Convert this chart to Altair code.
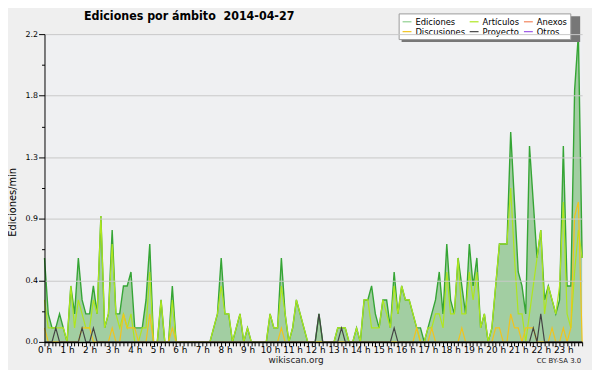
import altair as alt
import pandas as pd

FONT = "DejaVu Sans"
FONT_COND = "DejaVu Sans Condensed, DejaVu Sans"

# 10-minute bins across the day (minutes since 00:00)
minutos = list(range(0, 1440, 10))

ediciones = [
    0.6, 0.2, 0.1, 0.1, 0.2, 0.1, 0.0, 0.4, 0.2, 0.6, 0.3, 0.2,
    0.2, 0.4, 0.2, 0.9, 0.1, 0.2, 0.8, 0.2, 0.2, 0.4, 0.4, 0.5,
    0.1, 0.1, 0.1, 0.3, 0.7, 0.0, 0.0, 0.3, 0.0, 0.0, 0.4, 0.0,
    0.0, 0.0, 0.0, 0.0, 0.0, 0.0, 0.0, 0.0, 0.0, 0.1, 0.2, 0.6,
    0.2, 0.2, 0.0, 0.1, 0.2, 0.0, 0.1, 0.0, 0.0, 0.0, 0.0, 0.0,
    0.2, 0.1, 0.1, 0.6, 0.2, 0.0, 0.1, 0.3, 0.2, 0.1, 0.0, 0.0,
    0.0, 0.2, 0.0, 0.0, 0.0, 0.0, 0.1, 0.1, 0.1, 0.0, 0.0, 0.1,
    0.0, 0.3, 0.3, 0.4, 0.2, 0.1, 0.3, 0.3, 0.1, 0.5, 0.2, 0.4,
    0.3, 0.3, 0.2, 0.1, 0.1, 0.0, 0.1, 0.2, 0.3, 0.5, 0.2, 0.7,
    0.3, 0.2, 0.6, 0.4, 0.2, 0.7, 0.4, 0.6, 0.1, 0.2, 0.0, 0.1,
    0.4, 0.7, 0.7, 0.7, 1.5, 1.0, 0.5, 0.4, 0.2, 1.4, 1.0, 0.6,
    0.8, 0.3, 0.4, 0.3, 0.2, 0.3, 1.4, 0.4, 0.4, 1.8, 2.2, 0.6,
]

articulos = [
    0.3, 0.1, 0.1, 0.1, 0.1, 0.1, 0.0, 0.4, 0.1, 0.3, 0.2, 0.1,
    0.1, 0.3, 0.2, 0.9, 0.1, 0.2, 0.7, 0.2, 0.1, 0.2, 0.1, 0.2,
    0.0, 0.0, 0.1, 0.1, 0.5, 0.0, 0.0, 0.3, 0.0, 0.0, 0.3, 0.0,
    0.0, 0.0, 0.0, 0.0, 0.0, 0.0, 0.0, 0.0, 0.0, 0.1, 0.2, 0.4,
    0.2, 0.2, 0.0, 0.1, 0.2, 0.0, 0.1, 0.0, 0.0, 0.0, 0.0, 0.0,
    0.2, 0.1, 0.1, 0.4, 0.2, 0.0, 0.1, 0.3, 0.2, 0.1, 0.0, 0.0,
    0.0, 0.0, 0.0, 0.0, 0.0, 0.0, 0.1, 0.1, 0.1, 0.0, 0.0, 0.1,
    0.0, 0.3, 0.3, 0.1, 0.1, 0.1, 0.3, 0.2, 0.1, 0.4, 0.2, 0.4,
    0.3, 0.3, 0.2, 0.1, 0.0, 0.0, 0.1, 0.1, 0.2, 0.2, 0.1, 0.5,
    0.2, 0.2, 0.6, 0.2, 0.2, 0.5, 0.3, 0.5, 0.1, 0.2, 0.0, 0.1,
    0.4, 0.7, 0.7, 0.7, 1.1, 0.6, 0.2, 0.2, 0.0, 0.2, 0.4, 0.6,
    0.8, 0.2, 0.4, 0.3, 0.2, 0.4, 1.0, 0.2, 0.1, 0.5, 0.8, 0.6,
]

discusiones = [
    0.1, 0.0, 0.0, 0.0, 0.0, 0.0, 0.0, 0.0, 0.0, 0.0, 0.1, 0.1,
    0.1, 0.0, 0.0, 0.0, 0.0, 0.0, 0.1, 0.0, 0.0, 0.2, 0.1, 0.1,
    0.1, 0.0, 0.0, 0.0, 0.2, 0.0, 0.0, 0.0, 0.0, 0.0, 0.1, 0.0,
    0.0, 0.0, 0.0, 0.0, 0.0, 0.0, 0.0, 0.0, 0.0, 0.0, 0.0, 0.0,
    0.0, 0.0, 0.0, 0.0, 0.0, 0.0, 0.0, 0.0, 0.0, 0.0, 0.0, 0.0,
    0.0, 0.0, 0.0, 0.1, 0.0, 0.0, 0.0, 0.0, 0.0, 0.0, 0.0, 0.0,
    0.0, 0.0, 0.0, 0.0, 0.0, 0.0, 0.0, 0.0, 0.0, 0.0, 0.0, 0.0,
    0.0, 0.0, 0.0, 0.0, 0.0, 0.0, 0.0, 0.0, 0.0, 0.0, 0.0, 0.0,
    0.0, 0.0, 0.0, 0.1, 0.0, 0.0, 0.0, 0.1, 0.0, 0.0, 0.0, 0.0,
    0.0, 0.0, 0.0, 0.1, 0.0, 0.0, 0.0, 0.0, 0.0, 0.0, 0.0, 0.0,
    0.1, 0.1, 0.0, 0.0, 0.2, 0.1, 0.1, 0.0, 0.1, 0.1, 0.1, 0.0,
    0.0, 0.0, 0.0, 0.1, 0.0, 0.0, 0.1, 0.0, 0.1, 0.9, 1.0, 0.0,
]

proyecto = [
    0.0, 0.0, 0.0, 0.1, 0.0, 0.0, 0.0, 0.0, 0.0, 0.0, 0.1, 0.0,
    0.0, 0.1, 0.0, 0.0, 0.0, 0.0, 0.0, 0.0, 0.0, 0.0, 0.0, 0.0,
    0.0, 0.0, 0.0, 0.0, 0.0, 0.0, 0.0, 0.0, 0.0, 0.0, 0.0, 0.0,
    0.0, 0.0, 0.0, 0.0, 0.0, 0.0, 0.0, 0.0, 0.0, 0.0, 0.0, 0.0,
    0.0, 0.0, 0.0, 0.0, 0.0, 0.0, 0.0, 0.0, 0.0, 0.0, 0.0, 0.0,
    0.0, 0.0, 0.0, 0.0, 0.0, 0.0, 0.0, 0.0, 0.0, 0.0, 0.0, 0.0,
    0.0, 0.2, 0.0, 0.0, 0.0, 0.0, 0.0, 0.1, 0.0, 0.0, 0.0, 0.0,
    0.0, 0.0, 0.0, 0.0, 0.0, 0.0, 0.0, 0.0, 0.0, 0.1, 0.0, 0.0,
    0.0, 0.0, 0.0, 0.0, 0.0, 0.0, 0.0, 0.0, 0.0, 0.0, 0.0, 0.0,
    0.0, 0.0, 0.0, 0.0, 0.0, 0.0, 0.0, 0.0, 0.0, 0.0, 0.0, 0.0,
    0.0, 0.0, 0.0, 0.0, 0.0, 0.0, 0.0, 0.0, 0.0, 0.0, 0.1, 0.0,
    0.2, 0.0, 0.0, 0.0, 0.0, 0.0, 0.0, 0.0, 0.0, 0.0, 0.0, 0.0,
]

serie_nombres = ["Ediciones", "Artículos", "Anexos", "Discusiones", "Proyecto", "Otros"]
serie_colores = ["#8fcf8f", "#aee61e", "#f2845c", "#f2c31c", "#444444", "#9a55e6"]

y_mayores = [0.0, 0.44, 0.88, 1.32, 1.76, 2.2]
y_menores = [0.22, 0.66, 1.10, 1.54, 1.98]

titulo = "Ediciones por ámbito\u00a0 2014-04-27"
eje_y_titulo = "Ediciones/min"
pie_centro = "wikiscan.org"
pie_derecha = "CC BY-SA 3.0"

df_ed = pd.DataFrame({"min": minutos, "v": ediciones})
filas = []
for nombre, vals in [("Artículos", articulos), ("Discusiones", discusiones), ("Proyecto", proyecto)]:
    for m, v in zip(minutos, vals):
        filas.append({"min": m, "v": v, "serie": nombre})
df_lin = pd.DataFrame(filas)

x_scale = alt.Scale(domain=[0, 1430], nice=False, zero=False)
y_scale = alt.Scale(domain=[0, 2.2], nice=False)

x_axis = alt.Axis(
    values=minutos, title=None, grid=False,
    labelExpr="datum.value % 60 == 0 ? (datum.value / 60) + ' h' : ''",
    tickSize=4, tickColor="black", domainColor="black", domainWidth=1.5,
    labelFont=FONT, labelFontSize=9, labelColor="black", labelPadding=0,
    labelOverlap=False, labelFlush=False, zindex=2,
)
y_axis_major = alt.Axis(
    values=y_mayores, format=".1f", orient="left", grid=True, gridColor="#c8c8c8",
    tickSize=6, tickColor="black", domainColor="black",
    labelFont=FONT, labelFontSize=8, labelColor="black", labelPadding=1,
    title=eje_y_titulo, titleFont=FONT, titleFontSize=10, titleFontWeight="normal",
    titleColor="black", titlePadding=8, titleY=170, zindex=1,
)
y_axis_minor = alt.Axis(
    values=y_menores, orient="left", grid=False, labels=False, domain=False,
    tickSize=3, tickColor="black", title=None, zindex=1,
)

X = alt.X("min:Q", scale=x_scale, axis=x_axis)

area = alt.Chart(df_ed).mark_area(color="#a2cea2", opacity=1).encode(
    x=X, y=alt.Y("v:Q", scale=y_scale, axis=y_axis_minor)
)
linea_ed = alt.Chart(df_ed).mark_line(color="#35a535", strokeWidth=1.4).encode(
    x=X, y=alt.Y("v:Q", scale=y_scale, axis=y_axis_major)
)

leyenda = alt.Legend(
    title=None, orient="none", legendX=359, legendY=-21, columns=3, direction="horizontal",
    symbolType="stroke", symbolSize=81, symbolStrokeWidth=1.2,
    labelFont=FONT, labelFontSize=8.5, labelColor="black", labelOffset=3,
    fillColor="white", strokeColor="#999999", padding=3, rowPadding=0,
    columnPadding=1,
)
color = alt.Color("serie:N", scale=alt.Scale(domain=serie_nombres, range=serie_colores), legend=leyenda)

capas = []
for nombre in ["Artículos", "Discusiones", "Proyecto"]:
    capas.append(
        alt.Chart(df_lin).transform_filter(alt.datum.serie == nombre)
        .mark_line(strokeWidth=1.2)
        .encode(x=X, y=alt.Y("v:Q", scale=y_scale, axis=None), color=color)
    )

def texto(t, x, y, size, align, weight="normal", color="#222222", font=FONT):
    return alt.Chart(pd.DataFrame({"t": [t]})).mark_text(
        font=font, fontSize=size, fontWeight=weight, color=color,
        align=align, baseline="alphabetic",
    ).encode(text="t:N", x=alt.value(x), y=alt.value(y))

# decorative drop shadow behind the legend box
sombra = alt.Chart(pd.DataFrame({"s": [0]})).mark_rect(color="#777777").encode(
    x=alt.value(362), x2=alt.value(543), y=alt.value(-18), y2=alt.value(8)
)

tit = texto(titulo, 40, -14, 12.5, "left", weight="bold", color="black", font=FONT_COND)
pie1 = texto(pie_centro, 255, 333, 9, "center")
pie2 = texto(pie_derecha, 544, 333, 7, "right")

chart = alt.layer(area, linea_ed, *capas, sombra, tit, pie1, pie2).resolve_axis(y="independent").properties(
    width=545, height=312,
    autosize=alt.AutoSizeParams(type="none"),
    padding={"left": 37, "top": 24, "right": 10, "bottom": 26},
    background="#efefef",
).configure_view(fill="#eff0f2", stroke=None)

chart.save("out.html", embed_options={"renderer": "svg", "actions": False})
